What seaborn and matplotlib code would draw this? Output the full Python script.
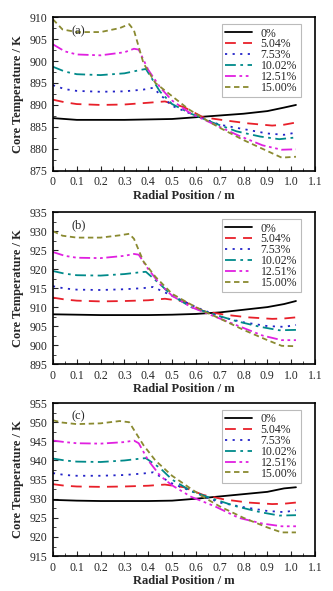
import numpy as np
import pandas as pd
import matplotlib
matplotlib.use("Agg")
import matplotlib.pyplot as plt
import seaborn as sns
from matplotlib.ticker import MultipleLocator

#%% data
labels = ['0%', '5.04%', '7.53%', '10.02%', '12.51%', '15.00%']
colors = ['#000000', '#e8202a', '#2323c8', '#008a8a', '#e020e0', '#8a8a30']
dashes = ['', (6, 4), (1.2, 3), (6, 2.5, 1.5, 2.5), (6, 2, 1.5, 2, 1.5, 2), (3, 2)]

# radial positions used for each series (same in all three panels)
x_0 = [0, 0.1, 0.2, 0.3, 0.4, 0.5, 0.6, 0.7, 0.8, 0.9, 0.97, 1.02]
x_504 = [0, 0.05, 0.1, 0.2, 0.3, 0.4, 0.47, 0.55, 0.63, 0.72, 0.82, 0.92, 0.97, 1.02]
x_753 = [0, 0.05, 0.1, 0.2, 0.3, 0.38, 0.42, 0.5, 0.6, 0.7, 0.8, 0.9, 0.97, 1.02]
x_1002 = [0, 0.05, 0.1, 0.2, 0.3, 0.37, 0.39, 0.45, 0.5, 0.58, 0.67, 0.77, 0.87, 0.95, 1.02]
x_1251 = [0, 0.05, 0.1, 0.2, 0.3, 0.34, 0.36, 0.4, 0.45, 0.5, 0.58, 0.68, 0.78, 0.88, 0.96, 1.02]
x_1500 = [0, 0.04, 0.1, 0.2, 0.28, 0.32, 0.34, 0.38, 0.43, 0.5, 0.57, 0.63, 0.7, 0.8, 0.9, 0.96, 1.02]
x_all = [x_0, x_504, x_753, x_1002, x_1251, x_1500]

# panel (a)
a_0 = [887.0, 886.6, 886.6, 886.6, 886.7, 886.8, 887.2, 887.6, 888.0, 888.6, 889.4, 890.0]
a_504 = [891.2, 890.6, 890.2, 890.0, 890.1, 890.5, 890.8, 889.5, 887.2, 886.5, 885.8, 885.3, 885.5, 886.0]
a_753 = [894.5, 893.6, 893.2, 893.0, 893.1, 893.5, 893.9, 889.8, 887.5, 885.5, 884.5, 883.5, 883.2, 883.7]
a_1002 = [898.7, 897.6, 897.0, 896.8, 897.2, 898.0, 898.2, 893.0, 890.2, 888.0, 886.0, 884.0, 882.8, 882.2, 882.6]
a_1251 = [903.8, 902.2, 901.5, 901.3, 902.0, 902.8, 902.6, 898.0, 894.0, 891.0, 888.0, 885.5, 883.0, 880.8, 879.8, 879.9]
a_1500 = [909.5, 907.2, 906.6, 906.6, 907.5, 908.4, 907.0, 899.5, 895.0, 892.0, 889.0, 887.0, 884.8, 882.0, 879.5, 878.0, 878.2]

# panel (b)
b_0 = [908.1, 908.0, 907.9, 907.9, 907.9, 908.0, 908.2, 908.6, 909.3, 910.0, 910.8, 911.6]
b_504 = [912.5, 912.0, 911.7, 911.5, 911.6, 911.8, 912.2, 911.5, 909.0, 908.0, 907.3, 906.9, 907.0, 907.3]
b_753 = [915.5, 914.9, 914.6, 914.5, 914.7, 915.0, 915.3, 913.0, 910.0, 907.5, 906.0, 905.0, 904.8, 905.3]
b_1002 = [919.5, 918.8, 918.4, 918.3, 918.7, 919.2, 919.3, 916.0, 913.0, 910.0, 908.2, 906.3, 904.8, 903.9, 904.0]
b_1251 = [924.5, 923.5, 923.0, 922.9, 923.5, 924.0, 923.8, 920.0, 916.0, 913.0, 910.0, 907.5, 905.0, 902.5, 901.3, 901.3]
b_1500 = [930.0, 928.8, 928.3, 928.3, 928.9, 929.3, 928.0, 922.0, 918.0, 913.5, 911.0, 909.0, 907.0, 904.0, 901.3, 899.8, 899.7]

# panel (c)
c_0 = [929.7, 929.5, 929.4, 929.4, 929.4, 929.5, 930.0, 930.6, 931.2, 931.8, 932.7, 933.0]
c_504 = [933.8, 933.4, 933.2, 933.1, 933.2, 933.4, 933.7, 933.0, 931.0, 929.8, 929.0, 928.6, 928.7, 929.0]
c_753 = [936.7, 936.2, 936.0, 936.0, 936.2, 936.6, 936.9, 934.0, 931.5, 929.0, 927.8, 926.8, 926.5, 927.0]
c_1002 = [940.5, 940.0, 939.7, 939.6, 940.0, 940.5, 940.6, 938.0, 935.0, 932.0, 930.0, 928.0, 926.5, 925.6, 925.7]
c_1251 = [945.2, 944.8, 944.5, 944.4, 944.8, 945.2, 944.5, 940.0, 936.0, 933.5, 930.5, 928.0, 925.0, 923.5, 922.8, 922.8]
c_1500 = [950.5, 949.9, 949.5, 949.7, 950.3, 950.0, 948.0, 944.0, 940.0, 936.0, 933.0, 930.5, 928.0, 925.0, 922.5, 921.2, 921.2]

x_ticks = [0, 0.1, 0.2, 0.3, 0.4, 0.5, 0.6, 0.7, 0.8, 0.9, 1.0, 1.1]
x_ticklabels = ['0', '0.1', '0.2', '0.3', '0.4', '0.5', '0.6', '0.7', '0.8', '0.9', '1.0', '1.1']

panels = [
    ('(a)', [a_0, a_504, a_753, a_1002, a_1251, a_1500], (875, 910)),
    ('(b)', [b_0, b_504, b_753, b_1002, b_1251, b_1500], (895, 935)),
    ('(c)', [c_0, c_504, c_753, c_1002, c_1251, c_1500], (915, 955)),
]

#%% plot
sns.set_style("ticks")
plt.rcParams['font.family'] = ['Liberation Serif', 'DejaVu Serif']

fig = plt.figure(figsize=(3.33, 5.91), dpi=100)
boxes = [[0.159, 0.711, 0.787, 0.260],
         [0.159, 0.384, 0.787, 0.257],
         [0.159, 0.059, 0.787, 0.259]]

for (tag, ys, ylim), box in zip(panels, boxes):
    ax = fig.add_axes(box)
    rows = []
    for lab, xs, yv in zip(labels, x_all, ys):
        rows.append(pd.DataFrame({'r': xs, 'T': yv, 'case': lab}))
    df = pd.concat(rows, ignore_index=True)
    sns.lineplot(data=df, x='r', y='T', hue='case', style='case',
                 hue_order=labels, style_order=labels,
                 palette=colors, dashes=dashes, linewidth=1.3,
                 sort=False, estimator=None, ax=ax)
    ax.set_xlim(0, 1.1)
    ax.set_ylim(*ylim)
    ax.set_xticks(x_ticks)
    ax.set_xticklabels(x_ticklabels)
    ax.xaxis.set_minor_locator(MultipleLocator(0.05))
    ax.yaxis.set_major_locator(MultipleLocator(5))
    ax.yaxis.set_minor_locator(MultipleLocator(2.5))
    ax.tick_params(which='both', direction='in', top=False, right=False,
                   labelsize=8.5)
    ax.tick_params(axis='x', pad=4)
    ax.tick_params(axis='y', pad=4)
    ax.tick_params(which='major', length=3.5, width=0.8)
    ax.tick_params(which='minor', length=2, width=0.6)
    for s in ax.spines.values():
        s.set_linewidth(1.2)
        s.set_color('black')
    ax.set_xlabel('Radial Position / m', fontsize=9, fontweight='bold', labelpad=1)
    ax.set_ylabel('Core Temperature / K', fontsize=9, fontweight='bold', labelpad=4)
    ax.text(0.07, 0.95, tag, transform=ax.transAxes, fontsize=9, va='top')
    leg = ax.legend(loc='upper right', bbox_to_anchor=(0.945, 0.955), fontsize=8.5,
                    frameon=True, fancybox=False, edgecolor='#bbbbbb', framealpha=1,
                    handlelength=2.3, labelspacing=-0.1, borderpad=0.3,
                    borderaxespad=0, handletextpad=0.7, title=None)
    leg.get_frame().set_linewidth(0.8)
    ax.grid(False)

fig.savefig('out.png', dpi=100)
